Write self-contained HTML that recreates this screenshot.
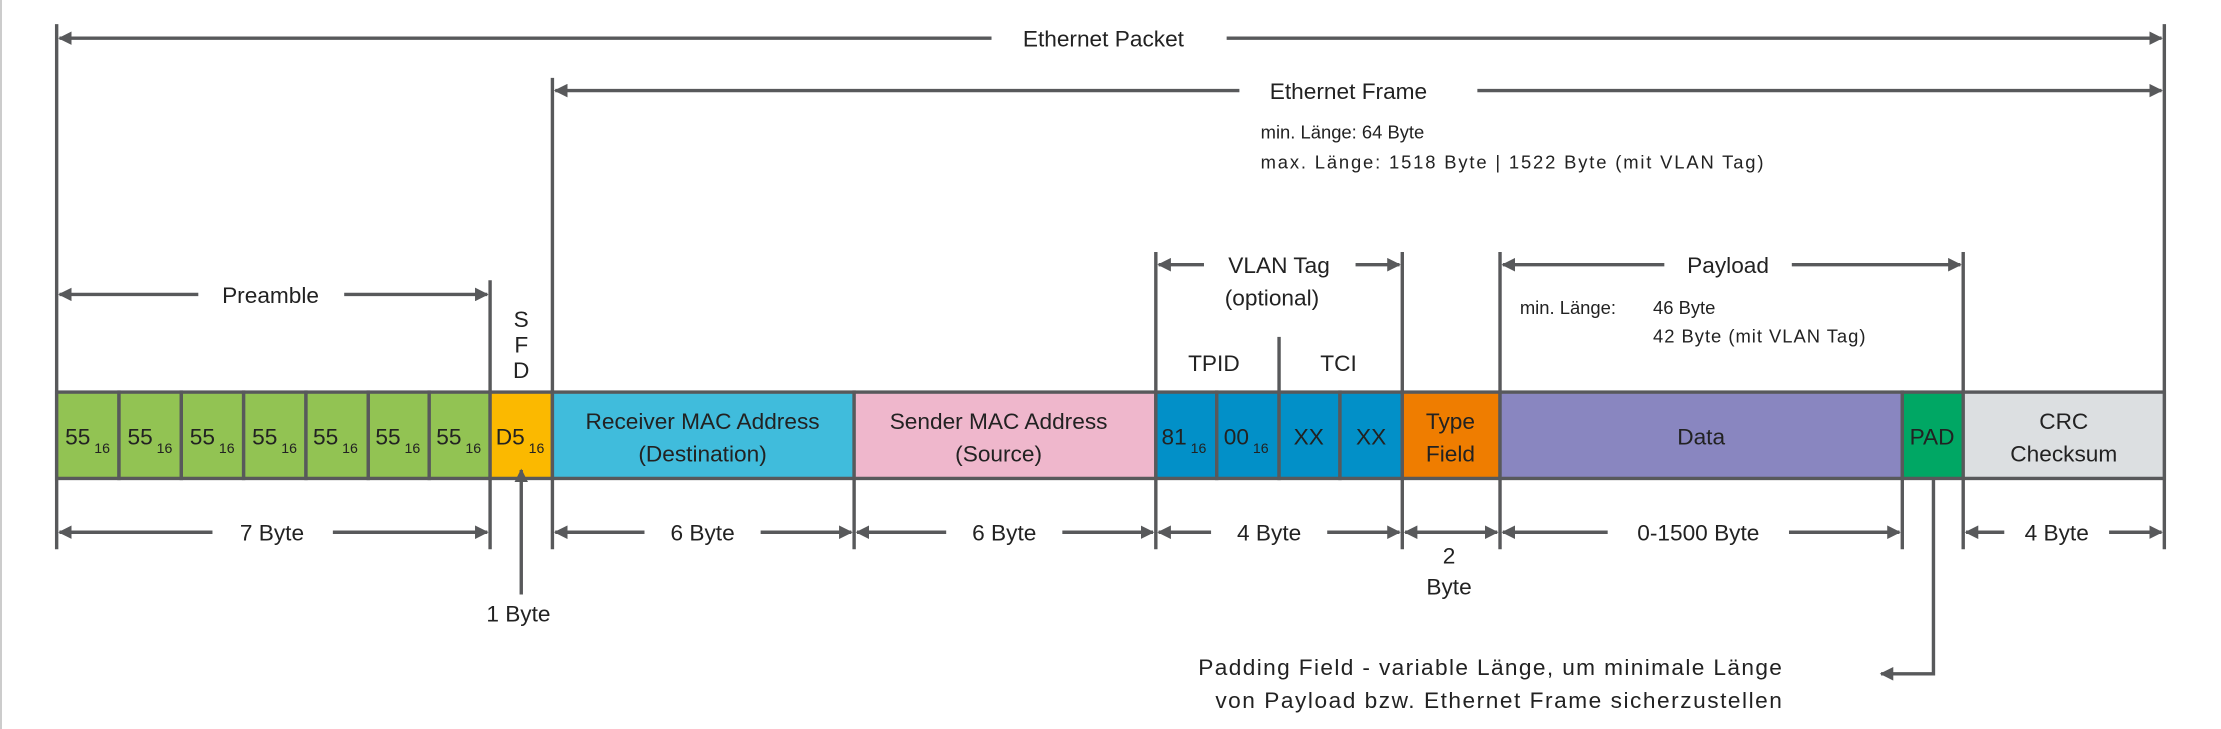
<!DOCTYPE html>
<html><head><meta charset="utf-8"><style>
html,body{margin:0;padding:0;background:#fff;}
svg{display:block;}
text{font-family:"Liberation Sans",sans-serif;fill:#222;}
</style></head><body>
<svg width="2221" height="729" viewBox="0 0 1568 515" preserveAspectRatio="none" xmlns="http://www.w3.org/2000/svg">
<defs>
<marker id="a" viewBox="0 0 10 10" refX="9" refY="5" markerWidth="4" markerHeight="4" orient="auto-start-reverse"><path d="M0,0L10,5L0,10z" fill="#58595b"/></marker>
</defs>
<rect x="0" y="0" width="1568" height="515" fill="#fff"/>
<line x1="0.7" y1="0" x2="0.7" y2="515" stroke="#ccc" stroke-width="1.4"/>
<g stroke="#58595b" stroke-width="2.4" fill="none">
<line x1="40" y1="17" x2="40" y2="388"/>
<line x1="1528" y1="17" x2="1528" y2="388"/>
<line x1="390" y1="55" x2="390" y2="388"/>
<line x1="346" y1="198" x2="346" y2="388"/>
<line x1="816" y1="178" x2="816" y2="388"/>
<line x1="990" y1="178" x2="990" y2="388"/>
<line x1="1059" y1="178" x2="1059" y2="388"/>
<line x1="1386" y1="178" x2="1386" y2="388"/>
<line x1="903" y1="238" x2="903" y2="277"/>
<line x1="603" y1="338" x2="603" y2="388"/>
<line x1="1343" y1="338" x2="1343" y2="388"/>
<line x1="42" y1="27" x2="700" y2="27" marker-start="url(#a)"/>
<line x1="866" y1="27" x2="1526" y2="27" marker-end="url(#a)"/>
<line x1="392" y1="64" x2="875" y2="64" marker-start="url(#a)"/>
<line x1="1043" y1="64" x2="1526" y2="64" marker-end="url(#a)"/>
<line x1="42" y1="208" x2="140" y2="208" marker-start="url(#a)"/>
<line x1="243" y1="208" x2="344" y2="208" marker-end="url(#a)"/>
<line x1="818" y1="187" x2="850" y2="187" marker-start="url(#a)"/>
<line x1="957" y1="187" x2="988" y2="187" marker-end="url(#a)"/>
<line x1="1061" y1="187" x2="1175" y2="187" marker-start="url(#a)"/>
<line x1="1265" y1="187" x2="1384" y2="187" marker-end="url(#a)"/>
<line x1="42" y1="376" x2="150" y2="376" marker-start="url(#a)"/>
<line x1="235" y1="376" x2="344" y2="376" marker-end="url(#a)"/>
<line x1="392" y1="376" x2="455" y2="376" marker-start="url(#a)"/>
<line x1="537" y1="376" x2="601" y2="376" marker-end="url(#a)"/>
<line x1="605" y1="376" x2="668" y2="376" marker-start="url(#a)"/>
<line x1="750" y1="376" x2="814" y2="376" marker-end="url(#a)"/>
<line x1="818" y1="376" x2="855" y2="376" marker-start="url(#a)"/>
<line x1="937" y1="376" x2="988" y2="376" marker-end="url(#a)"/>
<line x1="992" y1="376" x2="1057" y2="376" marker-start="url(#a)" marker-end="url(#a)"/>
<line x1="1061" y1="376" x2="1135" y2="376" marker-start="url(#a)"/>
<line x1="1263" y1="376" x2="1341" y2="376" marker-end="url(#a)"/>
<line x1="1388" y1="376" x2="1415" y2="376" marker-start="url(#a)"/>
<line x1="1489" y1="376" x2="1526" y2="376" marker-end="url(#a)"/>
</g>
<g stroke="#58595b" stroke-width="2.4">
<rect x="40" y="277" width="44" height="61" fill="#92c353"/>
<rect x="84" y="277" width="44" height="61" fill="#92c353"/>
<rect x="128" y="277" width="44" height="61" fill="#92c353"/>
<rect x="172" y="277" width="44" height="61" fill="#92c353"/>
<rect x="216" y="277" width="44" height="61" fill="#92c353"/>
<rect x="260" y="277" width="43" height="61" fill="#92c353"/>
<rect x="303" y="277" width="43" height="61" fill="#92c353"/>
<rect x="346" y="277" width="44" height="61" fill="#fbb900"/>
<rect x="390" y="277" width="213" height="61" fill="#40bcdc"/>
<rect x="603" y="277" width="213" height="61" fill="#efb7cc"/>
<rect x="816" y="277" width="43" height="61" fill="#0290c8"/>
<rect x="859" y="277" width="44" height="61" fill="#0290c8"/>
<rect x="903" y="277" width="43" height="61" fill="#0290c8"/>
<rect x="946" y="277" width="44" height="61" fill="#0290c8"/>
<rect x="990" y="277" width="69" height="61" fill="#ef7d00"/>
<rect x="1059" y="277" width="284" height="61" fill="#8986c0"/>
<rect x="1343" y="277" width="43" height="61" fill="#00a764"/>
<rect x="1386" y="277" width="142" height="61" fill="#dcdfe1"/>
</g>
<g stroke="#58595b" stroke-width="2.4" fill="none">
<line x1="368" y1="420" x2="368" y2="332" marker-end="url(#a)"/>
<polyline points="1365,339 1365,476 1328,476" marker-end="url(#a)"/>
</g>
<g font-size="16" transform="scale(1,1)">
<text x="779" y="33" text-anchor="middle">Ethernet Packet</text>
<text x="952" y="70" text-anchor="middle">Ethernet Frame</text>
<text x="191" y="214" text-anchor="middle">Preamble</text>
<text x="903" y="193" text-anchor="middle">VLAN Tag</text>
<text x="898" y="216" text-anchor="middle">(optional)</text>
<text x="857" y="262" text-anchor="middle">TPID</text>
<text x="945" y="262" text-anchor="middle">TCI</text>
<text x="1220" y="193" text-anchor="middle">Payload</text>
<text x="368" y="231" text-anchor="middle">S</text>
<text x="368" y="249" text-anchor="middle">F</text>
<text x="368" y="267" text-anchor="middle">D</text>
<text x="496" y="303" text-anchor="middle">Receiver MAC Address</text>
<text x="496" y="326" text-anchor="middle">(Destination)</text>
<text x="705" y="303" text-anchor="middle">Sender MAC Address</text>
<text x="705" y="326" text-anchor="middle">(Source)</text>
<text x="924" y="314" text-anchor="middle">XX</text>
<text x="968" y="314" text-anchor="middle">XX</text>
<text x="1024" y="303" text-anchor="middle">Type</text>
<text x="1024" y="326" text-anchor="middle">Field</text>
<text x="1201" y="314" text-anchor="middle">Data</text>
<text x="1364" y="314" text-anchor="middle">PAD</text>
<text x="1457" y="303" text-anchor="middle">CRC</text>
<text x="1457" y="326" text-anchor="middle">Checksum</text>
<text x="192" y="382" text-anchor="middle">7 Byte</text>
<text x="496" y="382" text-anchor="middle">6 Byte</text>
<text x="709" y="382" text-anchor="middle">6 Byte</text>
<text x="896" y="382" text-anchor="middle">4 Byte</text>
<text x="1199" y="382" text-anchor="middle">0-1500 Byte</text>
<text x="1452" y="382" text-anchor="middle">4 Byte</text>
<text x="1023" y="398" text-anchor="middle">2</text>
<text x="1023" y="420" text-anchor="middle">Byte</text>
<text x="366" y="439" text-anchor="middle">1 Byte</text>
<text x="1258" y="477" text-anchor="end" textLength="412">Padding Field - variable Länge, um minimale Länge</text>
<text x="1258" y="500" text-anchor="end" textLength="400">von Payload bzw. Ethernet Frame sicherzustellen</text>
</g>
<g font-size="16">
<text x="46" y="314">55<tspan font-size="10" dy="6"> 16</tspan></text>
<text x="90" y="314">55<tspan font-size="10" dy="6"> 16</tspan></text>
<text x="134" y="314">55<tspan font-size="10" dy="6"> 16</tspan></text>
<text x="178" y="314">55<tspan font-size="10" dy="6"> 16</tspan></text>
<text x="221" y="314">55<tspan font-size="10" dy="6"> 16</tspan></text>
<text x="265" y="314">55<tspan font-size="10" dy="6"> 16</tspan></text>
<text x="308" y="314">55<tspan font-size="10" dy="6"> 16</tspan></text>
<text x="350" y="314">D5<tspan font-size="10" dy="6"> 16</tspan></text>
<text x="820" y="314">81<tspan font-size="10" dy="6"> 16</tspan></text>
<text x="864" y="314">00<tspan font-size="10" dy="6"> 16</tspan></text>
</g>
<g font-size="13">
<text x="890" y="98">min. Länge: 64 Byte</text>
<text x="890" y="119" textLength="355">max. Länge: 1518 Byte | 1522 Byte (mit VLAN Tag)</text>
<text x="1073" y="222">min. Länge:</text>
<text x="1167" y="222">46 Byte</text>
<text x="1167" y="242" textLength="150">42 Byte (mit VLAN Tag)</text>
</g>
</svg>
</body></html>
